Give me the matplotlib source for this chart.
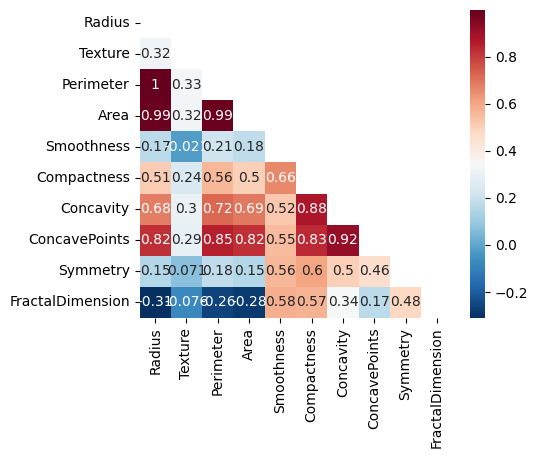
import numpy as np
import pandas as pd
import matplotlib
matplotlib.use('Agg')
import matplotlib.pyplot as plt
import seaborn as sns

features = ['Radius', 'Texture', 'Perimeter', 'Area', 'Smoothness', 'Compactness',
            'Concavity', 'ConcavePoints', 'Symmetry', 'FractalDimension']

# lower triangle of the correlation matrix, row by row
radius_r = [1.0]
texture_r = [0.32, 1.0]
perimeter_r = [0.998, 0.33, 1.0]
area_r = [0.99, 0.32, 0.99, 1.0]
smoothness_r = [0.17, -0.021, 0.21, 0.18, 1.0]
compactness_r = [0.51, 0.24, 0.56, 0.5, 0.66, 1.0]
concavity_r = [0.68, 0.3, 0.72, 0.69, 0.52, 0.88, 1.0]
concavepoints_r = [0.82, 0.29, 0.85, 0.82, 0.55, 0.83, 0.92, 1.0]
symmetry_r = [0.15, 0.071, 0.18, 0.15, 0.56, 0.6, 0.5, 0.46, 1.0]
fractal_r = [-0.31, -0.076, -0.26, -0.28, 0.58, 0.57, 0.34, 0.17, 0.48, 1.0]

rows = [radius_r, texture_r, perimeter_r, area_r, smoothness_r, compactness_r,
        concavity_r, concavepoints_r, symmetry_r, fractal_r]
n = len(features)
corr = np.ones((n, n))
for i, r in enumerate(rows):
    for j, v in enumerate(r):
        corr[i, j] = v
        corr[j, i] = v
corr = pd.DataFrame(corr, index=features, columns=features)

mask = np.triu(np.ones_like(corr, dtype=bool))

fig = plt.figure(figsize=(5.38, 4.58), dpi=100)
ax = fig.add_axes([0.2593, 0.3057, 0.5818, 0.679])
cax = fig.add_axes([0.8736, 0.3057, 0.0279, 0.6725])
sns.heatmap(corr, mask=mask, annot=True, cmap='RdBu_r', ax=ax, cbar_ax=cax)
fig.savefig('out.png', dpi=100)
